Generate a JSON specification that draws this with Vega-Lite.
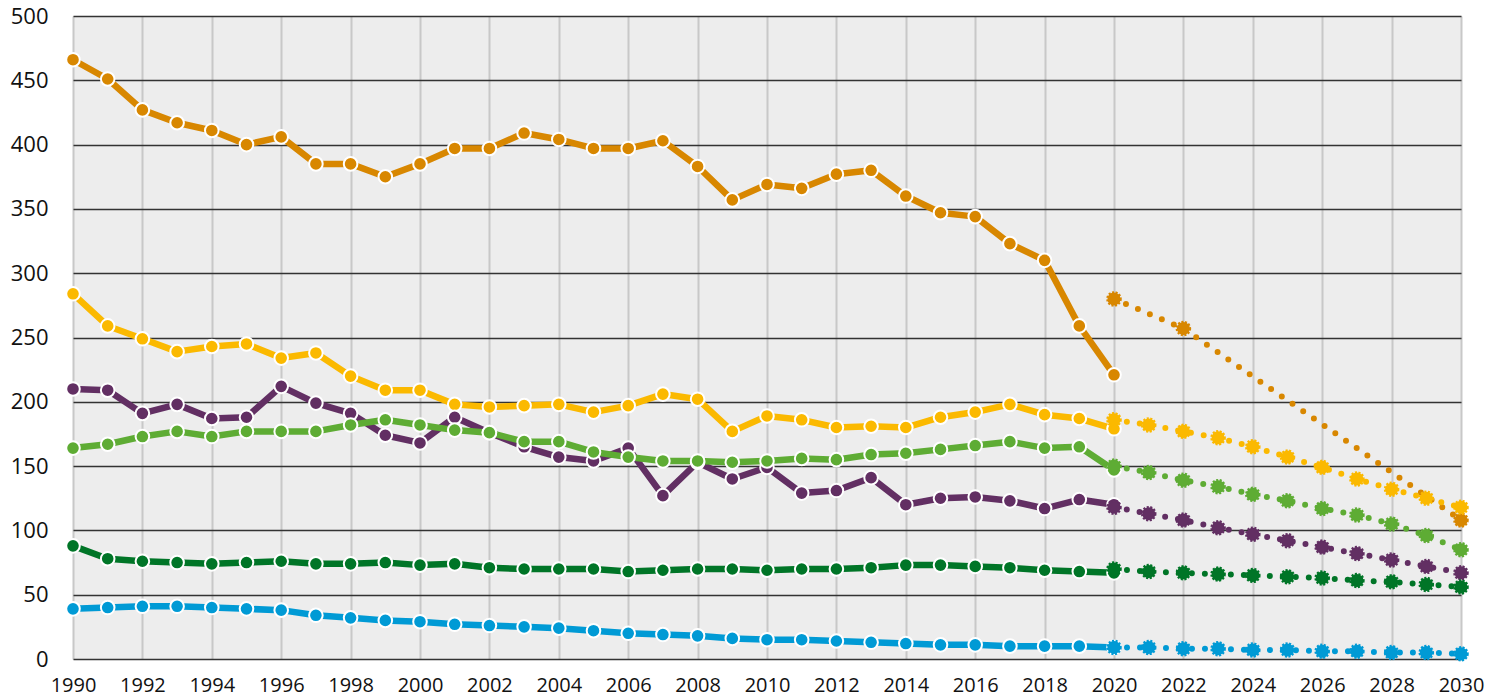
{
  "$schema": "https://vega.github.io/schema/vega-lite/v6.json",
  "autosize": "none",
  "width": 1388,
  "height": 643,
  "padding": {"left": 73, "top": 16, "right": 27, "bottom": 40},
  "background": "#ffffff",
  "view": {"fill": "#ededed", "stroke": null},
  "config": {
    "font": "Open Sans",
    "axis": {"labelColor": "#111111", "domain": false, "ticks": false, "title": null}
  },
  "datasets": {
    "ist": [
      {"jahr":1990,"sektor":"Energiewirtschaft","wert":466},{"jahr":1991,"sektor":"Energiewirtschaft","wert":451},{"jahr":1992,"sektor":"Energiewirtschaft","wert":427},{"jahr":1993,"sektor":"Energiewirtschaft","wert":417},{"jahr":1994,"sektor":"Energiewirtschaft","wert":411},{"jahr":1995,"sektor":"Energiewirtschaft","wert":400},{"jahr":1996,"sektor":"Energiewirtschaft","wert":406},{"jahr":1997,"sektor":"Energiewirtschaft","wert":385},{"jahr":1998,"sektor":"Energiewirtschaft","wert":385},{"jahr":1999,"sektor":"Energiewirtschaft","wert":375},{"jahr":2000,"sektor":"Energiewirtschaft","wert":385},{"jahr":2001,"sektor":"Energiewirtschaft","wert":397},{"jahr":2002,"sektor":"Energiewirtschaft","wert":397},{"jahr":2003,"sektor":"Energiewirtschaft","wert":409},{"jahr":2004,"sektor":"Energiewirtschaft","wert":404},{"jahr":2005,"sektor":"Energiewirtschaft","wert":397},{"jahr":2006,"sektor":"Energiewirtschaft","wert":397},{"jahr":2007,"sektor":"Energiewirtschaft","wert":403},{"jahr":2008,"sektor":"Energiewirtschaft","wert":383},{"jahr":2009,"sektor":"Energiewirtschaft","wert":357},{"jahr":2010,"sektor":"Energiewirtschaft","wert":369},{"jahr":2011,"sektor":"Energiewirtschaft","wert":366},{"jahr":2012,"sektor":"Energiewirtschaft","wert":377},{"jahr":2013,"sektor":"Energiewirtschaft","wert":380},{"jahr":2014,"sektor":"Energiewirtschaft","wert":360},{"jahr":2015,"sektor":"Energiewirtschaft","wert":347},{"jahr":2016,"sektor":"Energiewirtschaft","wert":344},{"jahr":2017,"sektor":"Energiewirtschaft","wert":323},{"jahr":2018,"sektor":"Energiewirtschaft","wert":310},{"jahr":2019,"sektor":"Energiewirtschaft","wert":259},{"jahr":2020,"sektor":"Energiewirtschaft","wert":221},
      {"jahr":1990,"sektor":"Industrie","wert":284},{"jahr":1991,"sektor":"Industrie","wert":259},{"jahr":1992,"sektor":"Industrie","wert":249},{"jahr":1993,"sektor":"Industrie","wert":239},{"jahr":1994,"sektor":"Industrie","wert":243},{"jahr":1995,"sektor":"Industrie","wert":245},{"jahr":1996,"sektor":"Industrie","wert":234},{"jahr":1997,"sektor":"Industrie","wert":238},{"jahr":1998,"sektor":"Industrie","wert":220},{"jahr":1999,"sektor":"Industrie","wert":209},{"jahr":2000,"sektor":"Industrie","wert":209},{"jahr":2001,"sektor":"Industrie","wert":198},{"jahr":2002,"sektor":"Industrie","wert":196},{"jahr":2003,"sektor":"Industrie","wert":197},{"jahr":2004,"sektor":"Industrie","wert":198},{"jahr":2005,"sektor":"Industrie","wert":192},{"jahr":2006,"sektor":"Industrie","wert":197},{"jahr":2007,"sektor":"Industrie","wert":206},{"jahr":2008,"sektor":"Industrie","wert":202},{"jahr":2009,"sektor":"Industrie","wert":177},{"jahr":2010,"sektor":"Industrie","wert":189},{"jahr":2011,"sektor":"Industrie","wert":186},{"jahr":2012,"sektor":"Industrie","wert":180},{"jahr":2013,"sektor":"Industrie","wert":181},{"jahr":2014,"sektor":"Industrie","wert":180},{"jahr":2015,"sektor":"Industrie","wert":188},{"jahr":2016,"sektor":"Industrie","wert":192},{"jahr":2017,"sektor":"Industrie","wert":198},{"jahr":2018,"sektor":"Industrie","wert":190},{"jahr":2019,"sektor":"Industrie","wert":187},{"jahr":2020,"sektor":"Industrie","wert":179},
      {"jahr":1990,"sektor":"Gebäude","wert":210},{"jahr":1991,"sektor":"Gebäude","wert":209},{"jahr":1992,"sektor":"Gebäude","wert":191},{"jahr":1993,"sektor":"Gebäude","wert":198},{"jahr":1994,"sektor":"Gebäude","wert":187},{"jahr":1995,"sektor":"Gebäude","wert":188},{"jahr":1996,"sektor":"Gebäude","wert":212},{"jahr":1997,"sektor":"Gebäude","wert":199},{"jahr":1998,"sektor":"Gebäude","wert":191},{"jahr":1999,"sektor":"Gebäude","wert":174},{"jahr":2000,"sektor":"Gebäude","wert":168},{"jahr":2001,"sektor":"Gebäude","wert":188},{"jahr":2002,"sektor":"Gebäude","wert":176},{"jahr":2003,"sektor":"Gebäude","wert":165},{"jahr":2004,"sektor":"Gebäude","wert":157},{"jahr":2005,"sektor":"Gebäude","wert":154},{"jahr":2006,"sektor":"Gebäude","wert":164},{"jahr":2007,"sektor":"Gebäude","wert":127},{"jahr":2008,"sektor":"Gebäude","wert":153},{"jahr":2009,"sektor":"Gebäude","wert":140},{"jahr":2010,"sektor":"Gebäude","wert":149},{"jahr":2011,"sektor":"Gebäude","wert":129},{"jahr":2012,"sektor":"Gebäude","wert":131},{"jahr":2013,"sektor":"Gebäude","wert":141},{"jahr":2014,"sektor":"Gebäude","wert":120},{"jahr":2015,"sektor":"Gebäude","wert":125},{"jahr":2016,"sektor":"Gebäude","wert":126},{"jahr":2017,"sektor":"Gebäude","wert":123},{"jahr":2018,"sektor":"Gebäude","wert":117},{"jahr":2019,"sektor":"Gebäude","wert":124},{"jahr":2020,"sektor":"Gebäude","wert":120},
      {"jahr":1990,"sektor":"Verkehr","wert":164},{"jahr":1991,"sektor":"Verkehr","wert":167},{"jahr":1992,"sektor":"Verkehr","wert":173},{"jahr":1993,"sektor":"Verkehr","wert":177},{"jahr":1994,"sektor":"Verkehr","wert":173},{"jahr":1995,"sektor":"Verkehr","wert":177},{"jahr":1996,"sektor":"Verkehr","wert":177},{"jahr":1997,"sektor":"Verkehr","wert":177},{"jahr":1998,"sektor":"Verkehr","wert":182},{"jahr":1999,"sektor":"Verkehr","wert":186},{"jahr":2000,"sektor":"Verkehr","wert":182},{"jahr":2001,"sektor":"Verkehr","wert":178},{"jahr":2002,"sektor":"Verkehr","wert":176},{"jahr":2003,"sektor":"Verkehr","wert":169},{"jahr":2004,"sektor":"Verkehr","wert":169},{"jahr":2005,"sektor":"Verkehr","wert":161},{"jahr":2006,"sektor":"Verkehr","wert":157},{"jahr":2007,"sektor":"Verkehr","wert":154},{"jahr":2008,"sektor":"Verkehr","wert":154},{"jahr":2009,"sektor":"Verkehr","wert":153},{"jahr":2010,"sektor":"Verkehr","wert":154},{"jahr":2011,"sektor":"Verkehr","wert":156},{"jahr":2012,"sektor":"Verkehr","wert":155},{"jahr":2013,"sektor":"Verkehr","wert":159},{"jahr":2014,"sektor":"Verkehr","wert":160},{"jahr":2015,"sektor":"Verkehr","wert":163},{"jahr":2016,"sektor":"Verkehr","wert":166},{"jahr":2017,"sektor":"Verkehr","wert":169},{"jahr":2018,"sektor":"Verkehr","wert":164},{"jahr":2019,"sektor":"Verkehr","wert":165},{"jahr":2020,"sektor":"Verkehr","wert":147},
      {"jahr":1990,"sektor":"Landwirtschaft","wert":88},{"jahr":1991,"sektor":"Landwirtschaft","wert":78},{"jahr":1992,"sektor":"Landwirtschaft","wert":76},{"jahr":1993,"sektor":"Landwirtschaft","wert":75},{"jahr":1994,"sektor":"Landwirtschaft","wert":74},{"jahr":1995,"sektor":"Landwirtschaft","wert":75},{"jahr":1996,"sektor":"Landwirtschaft","wert":76},{"jahr":1997,"sektor":"Landwirtschaft","wert":74},{"jahr":1998,"sektor":"Landwirtschaft","wert":74},{"jahr":1999,"sektor":"Landwirtschaft","wert":75},{"jahr":2000,"sektor":"Landwirtschaft","wert":73},{"jahr":2001,"sektor":"Landwirtschaft","wert":74},{"jahr":2002,"sektor":"Landwirtschaft","wert":71},{"jahr":2003,"sektor":"Landwirtschaft","wert":70},{"jahr":2004,"sektor":"Landwirtschaft","wert":70},{"jahr":2005,"sektor":"Landwirtschaft","wert":70},{"jahr":2006,"sektor":"Landwirtschaft","wert":68},{"jahr":2007,"sektor":"Landwirtschaft","wert":69},{"jahr":2008,"sektor":"Landwirtschaft","wert":70},{"jahr":2009,"sektor":"Landwirtschaft","wert":70},{"jahr":2010,"sektor":"Landwirtschaft","wert":69},{"jahr":2011,"sektor":"Landwirtschaft","wert":70},{"jahr":2012,"sektor":"Landwirtschaft","wert":70},{"jahr":2013,"sektor":"Landwirtschaft","wert":71},{"jahr":2014,"sektor":"Landwirtschaft","wert":73},{"jahr":2015,"sektor":"Landwirtschaft","wert":73},{"jahr":2016,"sektor":"Landwirtschaft","wert":72},{"jahr":2017,"sektor":"Landwirtschaft","wert":71},{"jahr":2018,"sektor":"Landwirtschaft","wert":69},{"jahr":2019,"sektor":"Landwirtschaft","wert":68},{"jahr":2020,"sektor":"Landwirtschaft","wert":67},
      {"jahr":1990,"sektor":"Abfallwirtschaft","wert":39},{"jahr":1991,"sektor":"Abfallwirtschaft","wert":40},{"jahr":1992,"sektor":"Abfallwirtschaft","wert":41},{"jahr":1993,"sektor":"Abfallwirtschaft","wert":41},{"jahr":1994,"sektor":"Abfallwirtschaft","wert":40},{"jahr":1995,"sektor":"Abfallwirtschaft","wert":39},{"jahr":1996,"sektor":"Abfallwirtschaft","wert":38},{"jahr":1997,"sektor":"Abfallwirtschaft","wert":34},{"jahr":1998,"sektor":"Abfallwirtschaft","wert":32},{"jahr":1999,"sektor":"Abfallwirtschaft","wert":30},{"jahr":2000,"sektor":"Abfallwirtschaft","wert":29},{"jahr":2001,"sektor":"Abfallwirtschaft","wert":27},{"jahr":2002,"sektor":"Abfallwirtschaft","wert":26},{"jahr":2003,"sektor":"Abfallwirtschaft","wert":25},{"jahr":2004,"sektor":"Abfallwirtschaft","wert":24},{"jahr":2005,"sektor":"Abfallwirtschaft","wert":22},{"jahr":2006,"sektor":"Abfallwirtschaft","wert":20},{"jahr":2007,"sektor":"Abfallwirtschaft","wert":19},{"jahr":2008,"sektor":"Abfallwirtschaft","wert":18},{"jahr":2009,"sektor":"Abfallwirtschaft","wert":16},{"jahr":2010,"sektor":"Abfallwirtschaft","wert":15},{"jahr":2011,"sektor":"Abfallwirtschaft","wert":15},{"jahr":2012,"sektor":"Abfallwirtschaft","wert":14},{"jahr":2013,"sektor":"Abfallwirtschaft","wert":13},{"jahr":2014,"sektor":"Abfallwirtschaft","wert":12},{"jahr":2015,"sektor":"Abfallwirtschaft","wert":11},{"jahr":2016,"sektor":"Abfallwirtschaft","wert":11},{"jahr":2017,"sektor":"Abfallwirtschaft","wert":10},{"jahr":2018,"sektor":"Abfallwirtschaft","wert":10},{"jahr":2019,"sektor":"Abfallwirtschaft","wert":10},{"jahr":2020,"sektor":"Abfallwirtschaft","wert":9}
    ],
    "ziel": [
      {"jahr":2020,"sektor":"Energiewirtschaft","wert":280},{"jahr":2022,"sektor":"Energiewirtschaft","wert":257},{"jahr":2030,"sektor":"Energiewirtschaft","wert":108},
      {"jahr":2020,"sektor":"Industrie","wert":186},{"jahr":2021,"sektor":"Industrie","wert":182},{"jahr":2022,"sektor":"Industrie","wert":177},{"jahr":2023,"sektor":"Industrie","wert":172},{"jahr":2024,"sektor":"Industrie","wert":165},{"jahr":2025,"sektor":"Industrie","wert":157},{"jahr":2026,"sektor":"Industrie","wert":149},{"jahr":2027,"sektor":"Industrie","wert":140},{"jahr":2028,"sektor":"Industrie","wert":132},{"jahr":2029,"sektor":"Industrie","wert":125},{"jahr":2030,"sektor":"Industrie","wert":118},
      {"jahr":2020,"sektor":"Gebäude","wert":118},{"jahr":2021,"sektor":"Gebäude","wert":113},{"jahr":2022,"sektor":"Gebäude","wert":108},{"jahr":2023,"sektor":"Gebäude","wert":102},{"jahr":2024,"sektor":"Gebäude","wert":97},{"jahr":2025,"sektor":"Gebäude","wert":92},{"jahr":2026,"sektor":"Gebäude","wert":87},{"jahr":2027,"sektor":"Gebäude","wert":82},{"jahr":2028,"sektor":"Gebäude","wert":77},{"jahr":2029,"sektor":"Gebäude","wert":72},{"jahr":2030,"sektor":"Gebäude","wert":67},
      {"jahr":2020,"sektor":"Verkehr","wert":150},{"jahr":2021,"sektor":"Verkehr","wert":145},{"jahr":2022,"sektor":"Verkehr","wert":139},{"jahr":2023,"sektor":"Verkehr","wert":134},{"jahr":2024,"sektor":"Verkehr","wert":128},{"jahr":2025,"sektor":"Verkehr","wert":123},{"jahr":2026,"sektor":"Verkehr","wert":117},{"jahr":2027,"sektor":"Verkehr","wert":112},{"jahr":2028,"sektor":"Verkehr","wert":105},{"jahr":2029,"sektor":"Verkehr","wert":96},{"jahr":2030,"sektor":"Verkehr","wert":85},
      {"jahr":2020,"sektor":"Landwirtschaft","wert":70},{"jahr":2021,"sektor":"Landwirtschaft","wert":68},{"jahr":2022,"sektor":"Landwirtschaft","wert":67},{"jahr":2023,"sektor":"Landwirtschaft","wert":66},{"jahr":2024,"sektor":"Landwirtschaft","wert":65},{"jahr":2025,"sektor":"Landwirtschaft","wert":64},{"jahr":2026,"sektor":"Landwirtschaft","wert":63},{"jahr":2027,"sektor":"Landwirtschaft","wert":61},{"jahr":2028,"sektor":"Landwirtschaft","wert":60},{"jahr":2029,"sektor":"Landwirtschaft","wert":58},{"jahr":2030,"sektor":"Landwirtschaft","wert":56},
      {"jahr":2020,"sektor":"Abfallwirtschaft","wert":9},{"jahr":2021,"sektor":"Abfallwirtschaft","wert":9},{"jahr":2022,"sektor":"Abfallwirtschaft","wert":8},{"jahr":2023,"sektor":"Abfallwirtschaft","wert":8},{"jahr":2024,"sektor":"Abfallwirtschaft","wert":7},{"jahr":2025,"sektor":"Abfallwirtschaft","wert":7},{"jahr":2026,"sektor":"Abfallwirtschaft","wert":6},{"jahr":2027,"sektor":"Abfallwirtschaft","wert":6},{"jahr":2028,"sektor":"Abfallwirtschaft","wert":5},{"jahr":2029,"sektor":"Abfallwirtschaft","wert":5},{"jahr":2030,"sektor":"Abfallwirtschaft","wert":4}
    ]
  },
  "encoding": {
    "x": {
      "field": "jahr", "type": "quantitative",
      "scale": {"domain": [1990, 2030], "nice": false, "zero": false},
      "axis": {
        "values": [1990,1992,1994,1996,1998,2000,2002,2004,2006,2008,2010,2012,2014,2016,2018,2020,2022,2024,2026,2028,2030],
        "format": "d", "labelFontSize": 20, "labelPadding": 16,
        "grid": true, "gridColor": "#c8c8c8", "gridWidth": 2, "labelFlush": false
      }
    },
    "y": {
      "field": "wert", "type": "quantitative",
      "scale": {"domain": [0, 500], "nice": false},
      "axis": {
        "values": [0,50,100,150,200,250,300,350,400,450,500],
        "labelFontSize": 22, "labelPadding": 25,
        "grid": true, "gridColor": "#333333", "gridWidth": 1.5
      }
    },
    "color": {
      "field": "sektor", "type": "nominal", "legend": null,
      "scale": {
        "domain": ["Energiewirtschaft","Industrie","Gebäude","Verkehr","Landwirtschaft","Abfallwirtschaft"],
        "range": ["#d88700","#fbb900","#622f63","#5eac34","#007527","#009ad5"]
      }
    }
  },
  "layer": [
    {
      "data": {"values": [{"wert": 0}]},
      "mark": {"type": "rule", "color": "#111111", "strokeWidth": 3},
      "encoding": {"x": {"datum": 1990}, "x2": {"datum": 2030}, "y": {"field": "wert", "type": "quantitative"}, "color": {"value": "#111111"}}
    },
    {
      "data": {"name": "ist"},
      "mark": {"type": "line", "strokeWidth": 6.5, "strokeJoin": "round"}
    },
    {
      "data": {"name": "ziel"},
      "mark": {"type": "line", "strokeWidth": 6, "strokeDash": [0, 13], "strokeCap": "round"}
    },
    {
      "data": {"name": "ist"},
      "mark": {"type": "point", "shape": "circle", "filled": true, "opacity": 1, "size": 185, "stroke": "#ffffff", "strokeWidth": 2}
    },
    {
      "data": {"name": "ziel"},
      "mark": {"type": "point", "shape": "circle", "filled": true, "opacity": 1, "size": 170, "strokeWidth": 2.5, "strokeDash": [2, 1.5]},
      "encoding": {
        "stroke": {
          "field": "sektor", "type": "nominal", "legend": null,
          "scale": {
            "domain": ["Energiewirtschaft","Industrie","Gebäude","Verkehr","Landwirtschaft","Abfallwirtschaft"],
            "range": ["#d88700","#fbb900","#622f63","#5eac34","#007527","#009ad5"]
          }
        }
      }
    }
  ]
}
